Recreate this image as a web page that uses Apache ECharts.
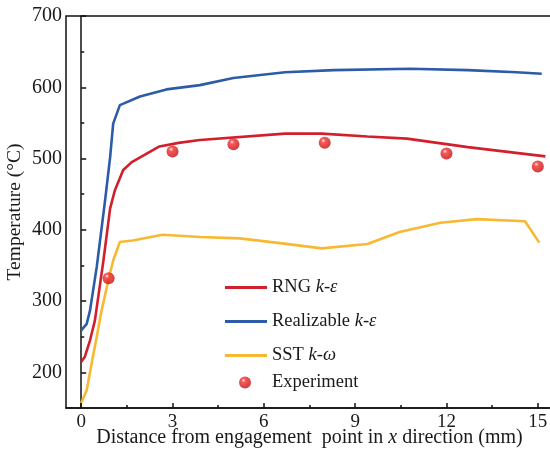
<!DOCTYPE html>
<html><head><meta charset="utf-8">
<script src="https://cdn.jsdelivr.net/npm/echarts@6/dist/echarts.min.js"></script>
<style>html,body{margin:0;padding:0;background:#fff}#c{width:550px;height:453px}</style>
</head><body><div id="c"></div>
<script>
const realX = [0, 0.18, 0.29, 0.51, 0.78, 0.95, 1.05, 1.27, 1.93, 2.8, 3.9, 5.0, 6.7, 8.3, 10.8, 12.7, 14.3, 15.13];
const realY = [259, 268, 287, 348, 440, 502, 549, 575, 587, 597, 603, 613, 621, 624, 626, 624, 621, 619];
const rngX = [0, 0.12, 0.29, 0.45, 0.73, 0.95, 1.11, 1.38, 1.66, 2.57, 3.2, 3.9, 6.7, 7.9, 9.4, 10.7, 12.7, 15.25];
const rngY = [215, 222, 245, 273, 357, 430, 456, 484, 495, 517, 522, 526, 535, 535, 531, 528, 516, 503];
const sstX = [0, 0.18, 0.34, 0.51, 0.67, 0.89, 1.05, 1.27, 1.69, 2.67, 3.9, 5.2, 6.6, 7.9, 9.4, 10.46, 11.8, 13.0, 14.58, 15.05];
const sstY = [157, 175, 212, 250, 287, 329, 357, 383, 385, 393, 390, 388, 381, 374, 380, 397, 410, 415, 412, 382];
const expX = [0.9, 3, 5, 8, 12, 15];
const expY = [332, 510, 520, 522, 507, 489];
const xTickLabels = [0, 3, 6, 9, 12, 15];
const xMinorTicks = [1.5, 4.5, 7.5, 10.5, 13.5];
const yTickLabels = [200, 300, 400, 500, 600, 700];
const yMinorTicks = [250, 350, 450, 550, 650];

const zip = (a, b) => a.map((v, i) => [v, b[i]]);
const FONT = 'Liberation Serif';
const chart = echarts.init(document.getElementById('c'));
const baseX = {type: 'value', min: -0.5, max: 15.5, splitLine: {show: false}};
const baseY = {type: 'value', min: 150, max: 700, splitLine: {show: false}};
chart.setOption({
  animation: false,
  textStyle: {fontFamily: FONT},
  grid: {left: 66, top: 16, right: -3, bottom: 45, show: true, borderColor: '#111', borderWidth: 1.5, containLabel: false, outerBoundsMode: 'none'},
  xAxis: [
    Object.assign({}, baseX, {
      position: 'bottom',
      axisLine: {show: true, lineStyle: {color: '#111', width: 1.5}},
      axisTick: {show: true, inside: true, length: 5, customValues: xTickLabels, lineStyle: {color: '#111', width: 1.5}},
      axisLabel: {show: true, customValues: xTickLabels, margin: 5, color: '#1a1a1a', fontSize: 19, fontFamily: FONT},
      name: '{a|Distance from engagement  point in }{i|x}{a| direction (mm)}',
      nameLocation: 'middle', nameGap: 20, nameMoveOverlap: false,
      nameTextStyle: {rich: {a: {fontFamily: FONT, fontSize: 20, color: '#1a1a1a'}, i: {fontFamily: FONT, fontStyle: 'italic', fontSize: 20, color: '#1a1a1a'}}}
    }),
    Object.assign({}, baseX, {
      position: 'bottom',
      axisLine: {show: false},
      axisTick: {show: true, inside: true, length: 3, customValues: xMinorTicks, lineStyle: {color: '#111', width: 1.5}},
      axisLabel: {show: false}
    })
  ],
  yAxis: [
    Object.assign({}, baseY, {
      position: 'left',
      axisLine: {show: true, lineStyle: {color: '#111', width: 1.5}},
      axisTick: {show: true, inside: true, length: 5, customValues: yTickLabels, lineStyle: {color: '#111', width: 1.5}},
      axisLabel: {show: true, customValues: yTickLabels, margin: 4, color: '#1a1a1a', fontSize: 20, fontFamily: FONT},
      name: 'Temperature (°C)', nameLocation: 'middle', nameGap: 41, nameRotate: 90, nameMoveOverlap: false,
      nameTextStyle: {fontFamily: FONT, fontSize: 19.5, color: '#1a1a1a'}
    }),
    Object.assign({}, baseY, {
      position: 'left',
      axisLine: {show: false},
      axisTick: {show: true, inside: true, length: 3, customValues: yMinorTicks, lineStyle: {color: '#111', width: 1.5}},
      axisLabel: {show: false}
    })
  ],
  legend: [
    {
      orient: 'vertical', left: 220, top: 273, itemWidth: 42, itemHeight: 3, itemGap: 15,
      icon: 'rect',
      data: ['RNG', 'Realizable', 'SST'],
      formatter: function (n) {
        if (n === 'RNG') return '{a|RNG }{i|k-ε}';
        if (n === 'Realizable') return '{a|Realizable }{i|k-ε}';
        return '{a|SST }{i|k-ω}';
      },
      textStyle: {padding: [0, 0, 0, 0], rich: {a: {fontFamily: FONT, fontSize: 18.5, color: '#1a1a1a'}, i: {fontFamily: FONT, fontStyle: 'italic', fontSize: 18.5, color: '#1a1a1a'}}}
    },
    {
      orient: 'vertical', left: 234, top: 368, itemWidth: 12, itemHeight: 12,
      data: ['Experiment'],
      textStyle: {padding: [0, 0, 0, 16], fontFamily: FONT, fontSize: 18.5, color: '#1a1a1a'}
    }
  ],
  series: [
    {name: 'RNG', type: 'line', data: zip(rngX, rngY), symbol: 'none', lineStyle: {color: '#d11f2b', width: 2.6}, itemStyle: {color: '#d11f2b'}, z: 3},
    {name: 'Realizable', type: 'line', data: zip(realX, realY), symbol: 'none', lineStyle: {color: '#2c5ca8', width: 2.6}, itemStyle: {color: '#2c5ca8'}, z: 3},
    {name: 'SST', type: 'line', data: zip(sstX, sstY), symbol: 'none', lineStyle: {color: '#f8b932', width: 2.6}, itemStyle: {color: '#f8b932'}, z: 2},
    {name: 'Experiment', type: 'scatter', data: zip(expX, expY), symbol: 'circle', symbolSize: 12, z: 5,
      itemStyle: {color: {type: 'radial', x: 0.38, y: 0.32, r: 0.7, colorStops: [{offset: 0, color: '#ffe4e4'}, {offset: 0.25, color: '#f23030'}, {offset: 1, color: '#c40a0a'}]}}}
  ]
});
</script></body></html>
